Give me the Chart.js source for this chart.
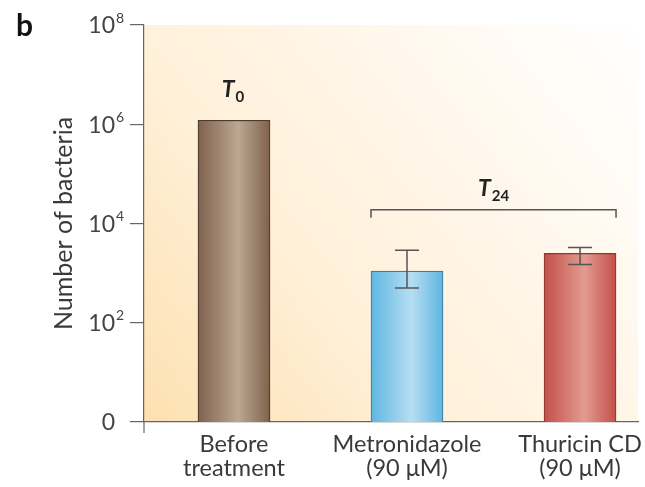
<!DOCTYPE html>
<html lang="en">
<head>
<meta charset="UTF-8">
<title>Number of bacteria</title>
<script src="https://cdn.jsdelivr.net/npm/chart.js"></script>
<style>
  body { margin: 0; background: #fff; }
  #wrap { position: relative; width: 645px; height: 487px; }
</style>
</head>
<body>
<div id="wrap"><canvas id="grafica"></canvas></div>
<script>
// datos
const categorias = [['Before', 'treatment'], ['Metronidazole', '(90 μM)'], ['Thuricin CD', '(90 μM)']];
const posiciones = [1, 2, 3];
const bacterias = [1.2e6, 1.1e3, 2.5e3];
const errorBajo = [null, 5e2, 1.5e3];
const errorAlto = [null, 2.9e3, 3.3e3];
const ticksY = [1, 1e2, 1e4, 1e6, 1e8];
const baseY = ['0', '10', '10', '10', '10'];
const exponentesY = ['', '2', '4', '6', '8'];

// colores de cada barra: borde, centro, contorno
const coloresBarra = [
    ['#7f624e', '#bca792', '#4b3a2f'],
    ['#5fb6e2', '#b6def2', '#3d7ea5'],
    ['#c34f49', '#e39c90', '#8c3731']
];
const FUENTE = 'Lato, "Open Sans", sans-serif';

function degradado(ctx) {
    const chart = ctx.chart;
    const c = coloresBarra[ctx.dataIndex] || coloresBarra[0];
    if (!chart.chartArea) return c[0];
    const x = chart.scales.x.getPixelForValue(posiciones[ctx.dataIndex]);
    const g = chart.ctx.createLinearGradient(x - 36, 0, x + 36, 0);
    g.addColorStop(0, c[0]);
    g.addColorStop(0.56, c[1]);
    g.addColorStop(1, c[0]);
    return g;
}

// fondo del area del grafico
const fondo = {
    id: 'fondo',
    beforeDraw(chart) {
        const { ctx, chartArea: a } = chart;
        const g = ctx.createLinearGradient(a.left, a.bottom, a.right, a.top);
        g.addColorStop(0, '#fde0b0');
        g.addColorStop(0.35, '#fff0d8');
        g.addColorStop(0.7, '#fff8ee');
        g.addColorStop(1, '#ffffff');
        ctx.save();
        ctx.fillStyle = g;
        ctx.fillRect(a.left, a.top, a.right - a.left, a.bottom - a.top);
        ctx.restore();
    }
};

// barras de error, llave T24, etiquetas y textos
const extras = {
    id: 'extras',
    afterDatasetsDraw(chart) {
        const { ctx, scales: { x, y }, chartArea: a } = chart;
        ctx.save();
        ctx.strokeStyle = '#555';
        ctx.lineWidth = 1.5;

        // barras de error
        posiciones.forEach((p, i) => {
            if (errorBajo[i] == null) return;
            const px = x.getPixelForValue(p);
            const y1 = y.getPixelForValue(errorBajo[i]);
            const y2 = y.getPixelForValue(errorAlto[i]);
            ctx.beginPath();
            ctx.moveTo(px, y1); ctx.lineTo(px, y2);
            ctx.moveTo(px - 12, y1); ctx.lineTo(px + 12, y1);
            ctx.moveTo(px - 12, y2); ctx.lineTo(px + 12, y2);
            ctx.stroke();
        });

        // llave sobre las barras tratadas
        const xa = x.getPixelForValue(posiciones[1]) - 36;
        const xb = x.getPixelForValue(posiciones[2]) + 36;
        const yl = y.getPixelForValue(1.9e4);
        ctx.beginPath();
        ctx.moveTo(xa, yl + 8); ctx.lineTo(xa, yl); ctx.lineTo(xb, yl); ctx.lineTo(xb, yl + 8);
        ctx.stroke();

        // prolongacion del eje y bajo el eje x
        ctx.strokeStyle = '#666';
        ctx.lineWidth = 1.2;
        ctx.beginPath();
        ctx.moveTo(a.left, a.bottom); ctx.lineTo(a.left, a.bottom + 11);
        ctx.stroke();

        // etiquetas T0 y T24
        ctx.fillStyle = '#222';
        ctx.textBaseline = 'alphabetic';
        const etiquetaT = (cx, by, sub) => {
            ctx.font = 'italic bold 23px ' + FUENTE;
            const wT = ctx.measureText('T').width;
            ctx.font = 'bold 15px ' + FUENTE;
            const wS = ctx.measureText(sub).width;
            const x0 = cx - (wT + wS + 1) / 2;
            ctx.font = 'italic bold 23px ' + FUENTE;
            ctx.textAlign = 'left';
            ctx.fillText('T', x0, by);
            ctx.font = 'bold 15px ' + FUENTE;
            ctx.fillText(sub, x0 + wT + 1, by + 5);
        };
        etiquetaT(x.getPixelForValue(posiciones[0]) - 1, y.getPixelForValue(Math.pow(10, 6.55)), '0');
        etiquetaT((xa + xb) / 2, y.getPixelForValue(Math.pow(10, 4.56)), '24');

        // etiquetas del eje y con exponente
        ctx.fillStyle = '#444';
        ticksY.forEach((v, i) => {
            const py = y.getPixelForValue(v);
            ctx.textBaseline = 'middle';
            ctx.textAlign = 'right';
            ctx.font = '23px ' + FUENTE;
            ctx.fillText(baseY[i], 115, py + 1);
            if (exponentesY[i]) {
                ctx.textAlign = 'left';
                ctx.font = '14px ' + FUENTE;
                ctx.fillText(exponentesY[i], 116, py - 7);
            }
        });

        // titulo del eje y
        ctx.save();
        ctx.translate(64, (a.top + a.bottom) / 2);
        ctx.rotate(-Math.PI / 2);
        ctx.textAlign = 'center';
        ctx.textBaseline = 'middle';
        ctx.font = '25px ' + FUENTE;
        ctx.fillStyle = '#3a3a3a';
        ctx.fillText('Number of bacteria', 0, 0);
        ctx.restore();

        // letra del panel
        ctx.font = 'bold 30px ' + FUENTE;
        ctx.fillStyle = '#111';
        ctx.textAlign = 'left';
        ctx.textBaseline = 'alphabetic';
        ctx.fillText('b', 16, 36);
        ctx.restore();
    }
};

const grafica = new Chart(document.getElementById('grafica'), {
    type: 'bar',
    data: {
        datasets: [{
            data: posiciones.map((p, i) => ({ x: p, y: bacterias[i] })),
            backgroundColor: degradado,
            borderColor: coloresBarra.map(c => c[2]),
            borderWidth: { left: 1.2, right: 1.2, top: 1.2, bottom: 0 },
            borderSkipped: false,
            barThickness: 72
        }]
    },
    options: {
        responsive: true,
        maintainAspectRatio: false,
        animation: false,
        layout: { padding: { top: 25, right: 7, left: 0, bottom: 0 } },
        plugins: { legend: { display: false }, tooltip: { enabled: false } },
        scales: {
            x: {
                type: 'linear',
                offset: false,
                min: 0.48,
                max: 3.335,
                afterBuildTicks: s => { s.ticks = posiciones.map(v => ({ value: v })); },
                afterFit: s => { s.height = 65; s.paddingLeft = 0; s.paddingRight = 0; },
                grid: { display: false, drawTicks: false, offset: false },
                border: { color: '#666', width: 1.2 },
                ticks: {
                    autoSkip: false,
                    maxRotation: 0,
                    padding: 10,
                    color: '#3a3a3a',
                    font: { family: FUENTE, size: 23.5, lineHeight: 1.03 },
                    callback: v => categorias[posiciones.indexOf(v)]
                }
            },
            y: {
                type: 'logarithmic',
                min: 1,
                max: 1e8,
                afterBuildTicks: s => { s.ticks = ticksY.map(v => ({ value: v })); },
                afterFit: s => { s.width = 144; s.paddingTop = 0; s.paddingBottom = 0; },
                grid: { drawOnChartArea: false, drawTicks: true, tickLength: 14, color: '#666', lineWidth: 1.2 },
                border: { color: '#666', width: 1.2 },
                ticks: { display: false }
            }
        }
    },
    plugins: [fondo, extras]
});
</script>
</body>
</html>
